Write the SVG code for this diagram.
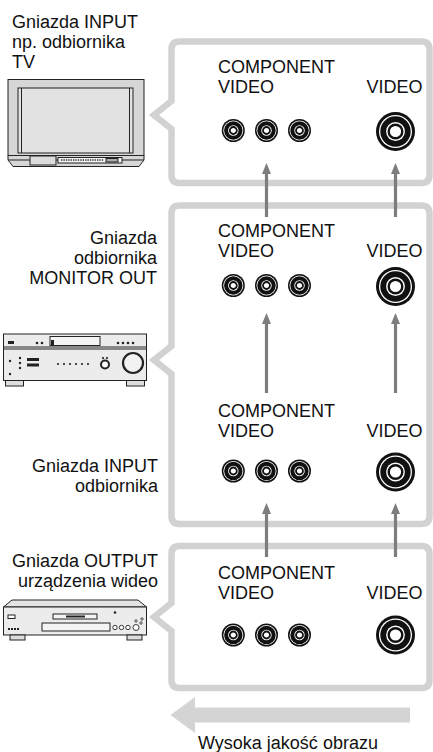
<svg xmlns="http://www.w3.org/2000/svg" width="433" height="752" viewBox="0 0 433 752">
  <style>
    .lbl { font-family: "Liberation Sans", Arial, sans-serif; font-size: 18px; fill: #111; }
    .end { text-anchor: end; }
    .panel { fill: #fff; stroke: #d2d2d2; stroke-width: 6.5; stroke-linejoin: miter; }
    .link { stroke: #7d7d7d; stroke-width: 3.2; fill: none; marker-end: url(#head); }
    .dev { stroke: #222; stroke-width: 1; }
    .body { fill: #ececec; }
    .k { fill: #222; }
  </style>
  <defs>
    <marker id="head" markerUnits="userSpaceOnUse" markerWidth="11" markerHeight="10" refX="1" refY="5" orient="auto">
      <path d="M0,0.5 L11,5 L0,9.5 z" fill="#7d7d7d"/>
    </marker>
    <!-- small RCA jack -->
    <g id="jackS">
      <circle r="11.5" fill="#111"/>
      <circle r="10" fill="#fff"/>
      <circle r="9.2" fill="#111"/>
      <circle r="5.2" fill="#fff"/>
      <circle r="3.5" fill="#fff" stroke="#111" stroke-width="1.8"/>
    </g>
    <!-- large RCA jack -->
    <g id="jackL">
      <circle r="19.5" fill="#111"/>
      <circle r="16.5" fill="#fff"/>
      <circle r="15.2" fill="#111"/>
      <circle r="9.4" fill="#fff"/>
      <circle r="6.8" fill="#fff" stroke="#111" stroke-width="2.4"/>
    </g>
    <!-- jack group captions -->
    <g id="jacks">
      <text class="lbl" x="218" y="0">COMPONENT</text>
      <text class="lbl" x="218" y="20">VIDEO</text>
      <text class="lbl" x="366.5" y="20">VIDEO</text>
    </g>
  </defs>

  <!-- bracket panels -->
  <g id="panel-tv">
    <path class="panel" d="M179.5 41.5 H421.5 Q429.5 41.5 429.5 49.5 V175 Q429.5 183 421.5 183 H179.5 Q171.5 183 171.5 175 V129 L154 115 L171.5 101 V49.5 Q171.5 41.5 179.5 41.5 Z"/>
  </g>
  <g id="panel-receiver">
    <path class="panel" d="M179.5 205.5 H421.5 Q429.5 205.5 429.5 213.5 V516 Q429.5 524 421.5 524 H179.5 Q171.5 524 171.5 516 V374 L154 360 L171.5 346 V213.5 Q171.5 205.5 179.5 205.5 Z"/>
  </g>
  <g id="panel-player">
    <path class="panel" d="M179.5 546 H421.5 Q429.5 546 429.5 554 V680 Q429.5 688 421.5 688 H179.5 Q171.5 688 171.5 680 V631 L154 617 L171.5 603 V554 Q171.5 546 179.5 546 Z"/>
  </g>

  <!-- signal connectors -->
  <g id="connectors">
    <line class="link" x1="266.5" y1="217" x2="266.5" y2="173"/>
    <line class="link" x1="395.5" y1="217" x2="395.5" y2="173"/>
    <line class="link" x1="266.5" y1="393" x2="266.5" y2="323"/>
    <line class="link" x1="395.5" y1="393" x2="395.5" y2="323"/>
    <line class="link" x1="266.5" y1="557" x2="266.5" y2="513"/>
    <line class="link" x1="395.5" y1="557" x2="395.5" y2="513"/>
  </g>

  <!-- TV input jacks -->
  <g id="tv-input">
    <use href="#jacks" y="73"/>
    <use href="#jackS" x="233.3" y="130.5"/>
    <use href="#jackS" x="266.5" y="130.5"/>
    <use href="#jackS" x="299.5" y="130.5"/>
    <use href="#jackL" x="395.5" y="131.5"/>
  </g>

  <!-- receiver MONITOR OUT jacks -->
  <g id="rx-monitor-out">
    <use href="#jacks" y="237"/>
    <use href="#jackS" x="233.3" y="285.5"/>
    <use href="#jackS" x="266.5" y="285.5"/>
    <use href="#jackS" x="299.5" y="285.5"/>
    <use href="#jackL" x="395.5" y="286.5"/>
  </g>

  <!-- receiver INPUT jacks -->
  <g id="rx-input">
    <use href="#jacks" y="417"/>
    <use href="#jackS" x="233.3" y="471"/>
    <use href="#jackS" x="266.5" y="471"/>
    <use href="#jackS" x="299.5" y="471"/>
    <use href="#jackL" x="395.5" y="472"/>
  </g>

  <!-- video device OUTPUT jacks -->
  <g id="player-output">
    <use href="#jacks" y="579"/>
    <use href="#jackS" x="233.3" y="635"/>
    <use href="#jackS" x="266.5" y="635"/>
    <use href="#jackS" x="299.5" y="635"/>
    <use href="#jackL" x="395.5" y="635"/>
  </g>

  <!-- captions on the left -->
  <g id="tv-label">
    <text class="lbl" x="12" y="28">Gniazda INPUT</text>
    <text class="lbl" x="12" y="48">np. odbiornika</text>
    <text class="lbl" x="12" y="68">TV</text>
  </g>
  <g id="rx-out-label">
    <text class="lbl end" x="157" y="244">Gniazda</text>
    <text class="lbl end" x="157" y="264">odbiornika</text>
    <text class="lbl end" x="157" y="284">MONITOR OUT</text>
  </g>
  <g id="rx-in-label">
    <text class="lbl end" x="158" y="472">Gniazda INPUT</text>
    <text class="lbl end" x="158" y="492">odbiornika</text>
  </g>
  <g id="player-label">
    <text class="lbl end" x="158" y="567">Gniazda OUTPUT</text>
    <text class="lbl end" x="158" y="587">urządzenia wideo</text>
  </g>

  <!-- TV set -->
  <g id="tv">
    <rect class="dev" x="8" y="79.5" width="136" height="76" fill="#d6d6d6"/>
    <rect class="dev" x="18" y="88" width="115" height="65" fill="#e2e2e2"/>
    <line class="dev" x1="21.5" y1="88" x2="21.5" y2="153"/>
    <line class="dev" x1="129.5" y1="88" x2="129.5" y2="153"/>
    <path class="dev" d="M8 155.5 H144 V160 L139 166.5 H13 L8 160 Z" fill="#d6d6d6"/>
    <line class="dev" x1="8" y1="160" x2="144" y2="160"/>
    <rect class="dev" x="30" y="156" width="26" height="9" fill="#dcdcdc"/>
    <rect class="dev" x="58" y="157.5" width="64" height="5.5" fill="#f4f4f4"/>
    <path d="M61 160 H104" stroke="#333" stroke-width="1.6" stroke-dasharray="1.4 1"/>
    <rect class="dev" x="106" y="158.5" width="12" height="3.5" fill="#aaa"/>
  </g>

  <!-- AV receiver -->
  <g id="receiver">
    <rect class="dev body" x="3.5" y="334" width="143" height="46.5"/>
    <line class="dev" x1="3.5" y1="347" x2="146.5" y2="347"/>
    <line class="dev" x1="3.5" y1="349" x2="146.5" y2="349"/>
    <rect class="dev" x="5.5" y="380.5" width="18" height="5.5" fill="#ddd"/>
    <rect class="dev" x="126.5" y="380.5" width="18" height="5.5" fill="#ddd"/>
    <rect class="k" x="8" y="341" width="6" height="3"/>
    <circle class="k" cx="37" cy="343" r="1.3"/>
    <circle class="k" cx="42" cy="343" r="1.3"/>
    <rect class="dev" x="50" y="336.5" width="50" height="9" fill="#f4f4f4"/>
    <rect class="k" x="51" y="340" width="3" height="5"/>
    <circle class="k" cx="118" cy="343" r="1.3"/>
    <circle class="k" cx="123" cy="343" r="1.3"/>
    <circle class="k" cx="128" cy="343" r="1.3"/>
    <circle class="k" cx="133" cy="343" r="1.3"/>
    <circle class="k" cx="10" cy="361" r="1.2"/>
    <circle class="k" cx="20" cy="358" r="1.2"/>
    <circle class="k" cx="20" cy="363" r="1.2"/>
    <circle class="k" cx="20" cy="368" r="1.2"/>
    <rect class="k" x="27" y="358" width="12" height="3"/>
    <rect class="k" x="27" y="363.5" width="12" height="3"/>
    <circle class="k" cx="58" cy="364" r="1.1"/>
    <circle class="k" cx="64" cy="364" r="1.1"/>
    <circle class="k" cx="70" cy="364" r="1.1"/>
    <circle class="k" cx="76" cy="364" r="1.1"/>
    <circle class="k" cx="82" cy="364" r="1.1"/>
    <circle class="k" cx="88" cy="364" r="1.1"/>
    <circle class="k" cx="103" cy="358" r="1.1"/>
    <circle class="k" cx="107" cy="358" r="1.1"/>
    <circle cx="105" cy="364.5" r="4" fill="#fff" stroke="#222" stroke-width="2"/>
    <circle cx="133" cy="363" r="10" fill="#f2f2f2" stroke="#222" stroke-width="2.2"/>
    <circle class="k" cx="10" cy="374" r="1.2"/>
  </g>

  <!-- video player -->
  <g id="player">
    <path class="dev" d="M12 600 H138 L146.5 607 H3.5 Z" fill="#e4e4e4"/>
    <rect class="dev body" x="3.5" y="607" width="143" height="28"/>
    <rect class="dev" x="10" y="635" width="15" height="5" fill="#ddd"/>
    <rect class="dev" x="127" y="635" width="15" height="5" fill="#ddd"/>
    <rect class="dev" x="8" y="615" width="7" height="3.5" fill="#fff"/>
    <path d="M8 629 H19" stroke="#222" stroke-width="2" stroke-dasharray="2 1"/>
    <rect class="dev" x="53" y="614" width="44" height="5" fill="#f4f4f4"/>
    <rect class="k" x="66" y="615.5" width="19" height="2"/>
    <rect class="dev" x="42" y="623" width="68" height="8" fill="#f4f4f4"/>
    <circle class="k" cx="115" cy="612.5" r="1.3"/>
    <circle cx="115" cy="627.5" r="2.2" fill="#fff" stroke="#222" stroke-width="0.9"/>
    <circle cx="121.5" cy="627.5" r="2.2" fill="#fff" stroke="#222" stroke-width="0.9"/>
    <circle cx="128" cy="627.5" r="2.2" fill="#fff" stroke="#222" stroke-width="0.9"/>
    <circle cx="136" cy="627.5" r="3" fill="#fff" stroke="#222" stroke-width="0.9"/>
    <circle cx="136" cy="621" r="1.2" fill="#fff" stroke="#222" stroke-width="0.8"/>
    <circle cx="141" cy="623" r="1.2" fill="#fff" stroke="#222" stroke-width="0.8"/>
    <circle cx="142" cy="619" r="1.2" fill="#fff" stroke="#222" stroke-width="0.8"/>
  </g>

  <!-- quality direction arrow -->
  <g id="quality">
    <path d="M410 707.5 H195 V697 L170.5 715 L195 733 V722.5 H410 Z" fill="#d4d4d4"/>
    <text class="lbl" x="198" y="749">Wysoka jakość obrazu</text>
  </g>
</svg>
